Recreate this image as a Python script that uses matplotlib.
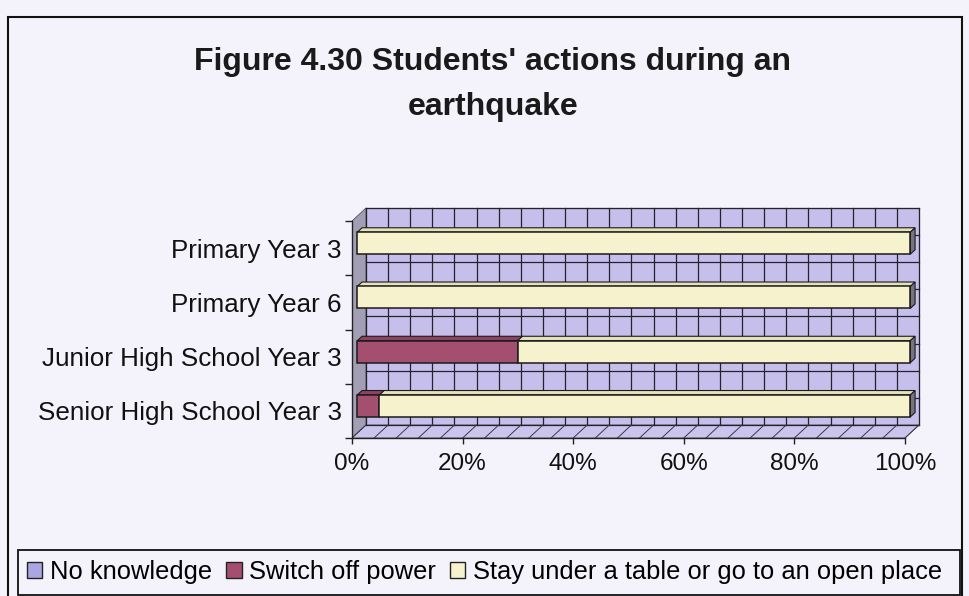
import matplotlib
matplotlib.use("Agg")
import matplotlib.pyplot as plt
from matplotlib.patches import Polygon, Rectangle
import numpy as np

# ---- data -------------------------------------------------------------
categories = ["Primary Year 3", "Primary Year 6",
              "Junior High School Year 3", "Senior High School Year 3"]
series_names = ["No knowledge", "Switch off power",
                "Stay under a table or go to an open place"]
no_knowledge = [0, 0, 0, 0]
switch_off_power = [0, 0, 29, 4]
stay_under_table = [100, 100, 71, 96]
x_ticks = [0, 20, 40, 60, 80, 100]
x_tick_labels = ["0%", "20%", "40%", "60%", "80%", "100%"]
title_lines = ["Figure 4.30 Students' actions during an", "earthquake"]

# ---- styling ----------------------------------------------------------
BG = "#f4f3fb"
WALL = "#c6bfec"
FLOOR = "#cbc5ee"
SIDE_WALL = "#a29eb4"
GRID = "#24222d"
front_colors = ["#a9a6e2", "#a44f6f", "#f5f2cd"]
top_colors = ["#9390cc", "#8d4360", "#e4e0ba"]
END_FACE = "#77737f"

plt.rcParams["font.family"] = ["Liberation Sans", "DejaVu Sans"]

W, H = 969, 596
fig = plt.figure(figsize=(W / 100, H / 100), dpi=100, facecolor=BG)

# outer chart frame
fig.patches.append(Rectangle((8 / W, -0.02), 954 / W, (H - 17) / H + 0.02,
                             transform=fig.transFigure, fill=False,
                             edgecolor="#111111", lw=1.5))

# title
for line, base_px in zip(title_lines, [70, 115]):
    fig.text(493 / W, 1 - base_px / H, line, ha="center", va="baseline",
             fontsize=23, fontweight="bold", color="#1a1a1a")

# plotting region: x in percent, y in category slots (0 = top)
x_max = 106
y_top = -0.3
ax = fig.add_axes([352 / W, 1 - 438 / H, (x_max * 5.53) / W,
                   (438 - (221 + y_top * 54.25)) / H])
ax.set_facecolor("none")
ax.set_xlim(0, x_max)
ax.set_ylim(len(categories), y_top)
for side in ["top", "right"]:
    ax.spines[side].set_visible(False)
for side in ["left", "bottom"]:
    ax.spines[side].set_color("#222222")
    ax.spines[side].set_linewidth(1.0)
    ax.spines[side].set_zorder(6)
ax.spines["left"].set_bounds(0, len(categories))
ax.spines["bottom"].set_bounds(0, 100)

n = len(categories)
DX = 2.53     # depth offset in percent units
DY = 0.24     # depth offset in slot units (upwards)

# back wall
ax.add_patch(Polygon([(DX, -DY), (100 + DX, -DY), (100 + DX, n - DY), (DX, n - DY)],
                     closed=True, facecolor=WALL, edgecolor="#55525e", lw=0.8, zorder=1))
for xv in np.arange(0, 101, 4):
    ax.plot([xv + DX, xv + DX], [-DY, n - DY], color=GRID, lw=0.9, zorder=2)
for yv in np.arange(0, n + 0.01, 0.5):
    ax.plot([DX, 100 + DX], [yv - DY, yv - DY], color=GRID, lw=0.9, zorder=2)

# side wall
ax.add_patch(Polygon([(0, 0), (DX, -DY), (DX, n - DY), (0, n)], closed=True,
                     facecolor=SIDE_WALL, edgecolor="#55525e", lw=0.6, zorder=1))
# floor
ax.add_patch(Polygon([(0, n), (100, n), (100 + DX, n - DY), (DX, n - DY)], closed=True,
                     facecolor=FLOOR, edgecolor="#55525e", lw=0.6, zorder=1))
for xv in np.arange(0, 101, 4):
    ax.plot([xv, xv + DX], [n, n - DY], color="#3a3845", lw=0.7, zorder=2)

# stacked 3D bars
f0, f1 = 0.38, 0.72
bar_h = 0.405
stack = np.array([no_knowledge, switch_off_power, stay_under_table], dtype=float)
for i in range(n):
    c = i + 0.5
    ytop = c - bar_h / 2 - f0 * DY
    ybot = c + bar_h / 2 - f0 * DY
    ddx = (f1 - f0) * DX
    ddy = (f1 - f0) * DY
    left = 0.0
    last = max(k for k in range(3) if stack[k, i] > 0)
    for k in range(3):
        v = stack[k, i]
        if v <= 0:
            continue
        x0 = left + f0 * DX
        x1 = left + v + f0 * DX
        ax.add_patch(Polygon([(x0, ytop), (x1, ytop), (x1 + ddx, ytop - ddy),
                              (x0 + ddx, ytop - ddy)], closed=True,
                             facecolor=top_colors[k], edgecolor="#1b1b1b",
                             lw=0.8, zorder=4))
        ax.add_patch(Rectangle((x0, ytop), x1 - x0, ybot - ytop,
                               facecolor=front_colors[k], edgecolor="#1b1b1b",
                               lw=1.1, zorder=5))
        if k == last:
            ax.add_patch(Polygon([(x1, ytop), (x1 + ddx, ytop - ddy),
                                  (x1 + ddx, ybot - ddy), (x1, ybot)], closed=True,
                                 facecolor=END_FACE, edgecolor="#1b1b1b",
                                 lw=0.8, zorder=4))
        left += v

# axes ticks and labels
ax.set_xticks(x_ticks)
ax.set_xticklabels(x_tick_labels, fontsize=17.5, color="#111111")
ax.tick_params(axis="x", direction="out", length=4, width=1.0, pad=6.5,
               color="#222222")
ax.set_yticks(np.arange(0, n + 1))
ax.set_yticklabels([])
ax.tick_params(axis="y", which="major", direction="out", length=5, width=1.0,
               color="#222222")
ax.set_yticks(np.arange(n) + 0.5, minor=True)
ax.set_yticklabels(categories, minor=True, fontsize=18.7, color="#111111")
ax.tick_params(axis="y", which="minor", length=0, pad=7.5)

# legend
legend_box = Rectangle((18 / W, 1 - 595 / H), 942 / W, 45 / H,
                       transform=fig.transFigure, facecolor=BG,
                       edgecolor="#111111", lw=1.3)
fig.patches.append(legend_box)
handles = [Rectangle((0, 0), 1, 1, facecolor=front_colors[k], edgecolor="#222222",
                     lw=1.0) for k in range(3)]
fig.legend(handles, series_names, loc="center left",
           bbox_to_anchor=(27 / W, 1 - 572 / H), ncol=3, frameon=False,
           fontsize=18.4, handlelength=0.6, handleheight=0.6, handletextpad=0.3,
           columnspacing=0.55, borderpad=0, borderaxespad=0)

fig.savefig("out.png", dpi=100, facecolor=BG)
